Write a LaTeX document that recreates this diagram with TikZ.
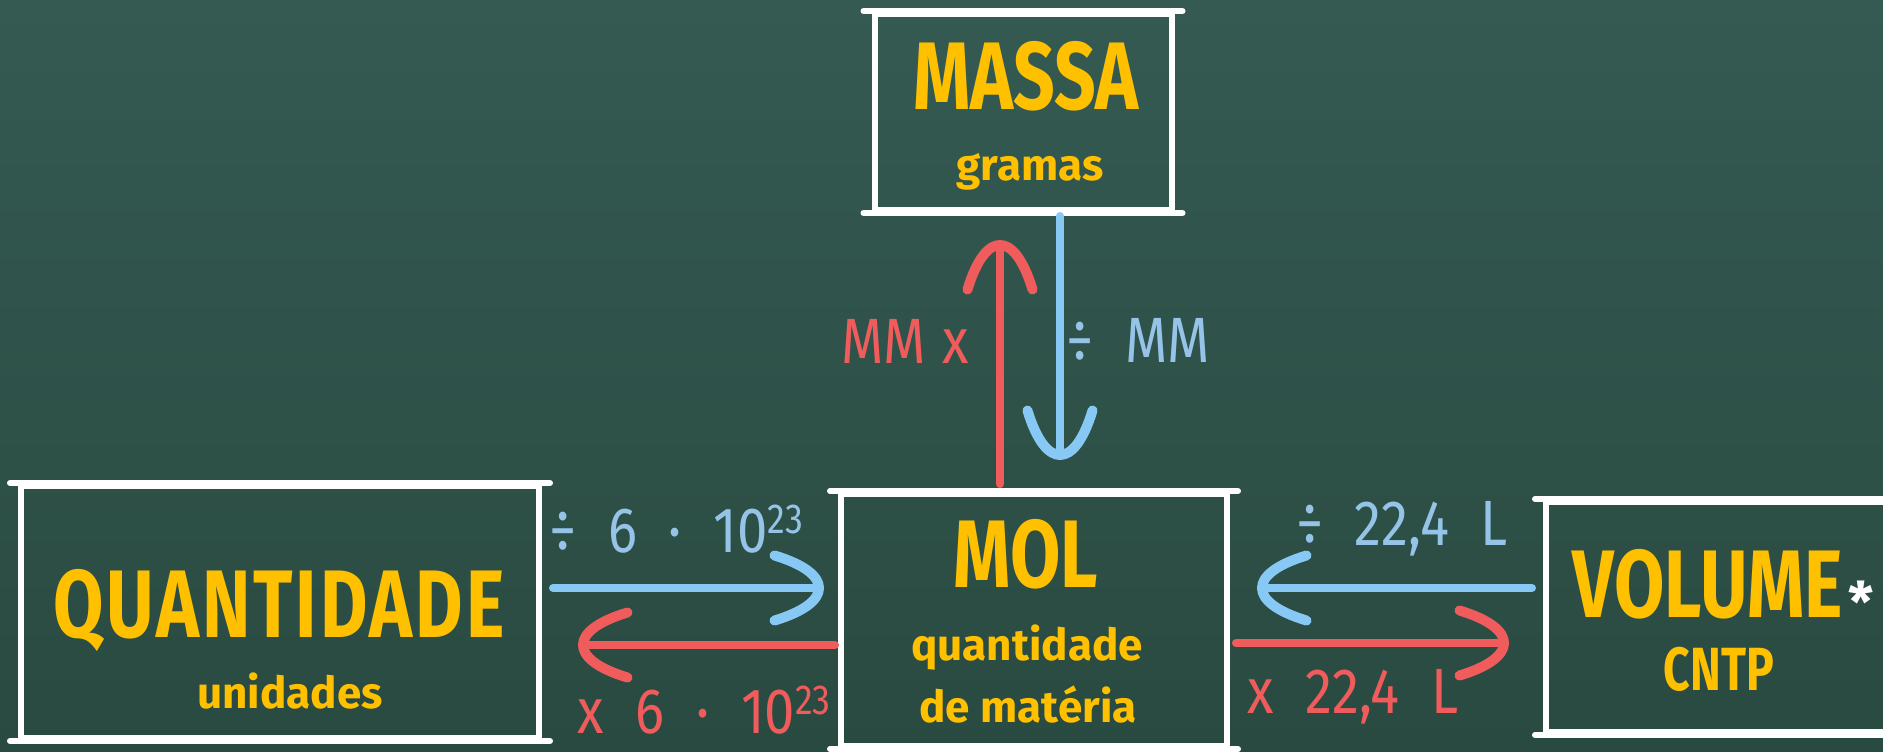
\documentclass[tikz,border=0pt]{standalone}
\usepackage{fontspec}
\usetikzlibrary{arrows.meta}
\newfontfamily\chalkfont[FakeStretch=0.76]{Fira Sans}
\newfontfamily\handfont{Fira Sans}
\newfontfamily\labelfont[FakeStretch=0.85, WordSpace=2.2]{Fira Sans}
\newcommand\supnum[1]{\raisebox{19pt}{\fontsize{42}{42}\selectfont #1}}
\definecolor{boardtop}{RGB}{52,90,81}
\definecolor{boardbot}{RGB}{41,74,65}
\definecolor{chalkyellow}{RGB}{255,192,0}
\definecolor{chalkred}{RGB}{240,92,92}
\definecolor{chalkblue}{RGB}{150,196,232}
\definecolor{arrowblue}{RGB}{135,200,245}
\tikzset{
  box/.style={draw=white, line width=6pt, inner sep=0pt},
  edge/.style={draw=white, line width=6pt, line cap=round, shorten <=-8pt, shorten >=-8pt},
  title/.style={text=chalkyellow, anchor=base, inner sep=0pt, font=\chalkfont\bfseries\fontsize{96}{96}\selectfont},
  sub/.style={text=chalkyellow, anchor=base, inner sep=0pt, font=\handfont\bfseries\fontsize{44}{44}\selectfont},
  subcaps/.style={text=chalkyellow, anchor=base, inner sep=0pt, font=\chalkfont\bfseries\fontsize{61}{61}\selectfont},
  asterisk/.style={text=white, anchor=base, inner sep=0pt, font=\handfont\bfseries\fontsize{56}{56}\selectfont},
  redlabel/.style={text=chalkred, anchor=base, inner sep=0pt, font=\labelfont\fontsize{64}{64}\selectfont},
  bluelabel/.style={text=chalkblue, anchor=base, inner sep=0pt, font=\labelfont\fontsize{64}{64}\selectfont},
  chalktip/.style={-{Arc Barb[arc=90, length=157pt, width=102pt, line width'=10pt, round]}},
  redarrow/.style={draw=chalkred, line width=8pt, line cap=round, chalktip},
  bluearrow/.style={draw=arrowblue, line width=8pt, line cap=round, chalktip}
}
\begin{document}
\begin{tikzpicture}[x=1pt, y=-1pt]
\shade[top color=boardtop, bottom color=boardbot] (0,0) rectangle (1883,752);
\useasboundingbox (0,0) rectangle (1883,752);
\clip (0,0) rectangle (1883,752);
\node[box, minimum width=297pt, minimum height=196pt] (massa) at (1023,112){};
\node[box, minimum width=518pt, minimum height=252pt] (qtd) at (280,612){};
\node[box, minimum width=386pt, minimum height=252pt] (mol) at (1034,620){};
\node[box, minimum width=346pt, minimum height=230pt] (vol) at (1719,617){};
\foreach \b in {massa,qtd,mol,vol}{
  \draw[edge] (\b.north west) -- (\b.north east);
  \draw[edge] (\b.south west) -- (\b.south east);
}
\node[title] (massat) at (1026,110){MASSA};
\node[sub] (massas) at (1030,180){gramas};
\node[title] (qtdt) at (279,637){\addfontfeature{LetterSpace=3}QUANTIDADE};
\node[sub] (qtds) at (290,708){unidades};
\node[title] (molt) at (1026,587){MOL};
\node[sub] (mols) at (1027,660){quantidade};
\node[sub] (molm) at (1028,722){de matéria};
\node[title] (volt) at (1708,617){VOLUME};
\node[asterisk] (volx) at (1861,622){*};
\node[subcaps] (vols) at (1719,690){CNTP};
\draw[redarrow, shorten <=7pt, shorten >=27pt] ([xshift=-34pt]mol.north) -- ([xshift=-34pt]mol.north |- massa.south);
\draw[bluearrow, shorten <=3pt, shorten >=31pt] ([xshift=26pt]mol.north |- massa.south) -- ([xshift=26pt]mol.north);
\draw[bluearrow, shorten <=11pt, shorten >=14pt] ([yshift=32pt]mol.west -| qtd.east) -- ([yshift=32pt]mol.west);
\draw[redarrow, shorten <=3pt, shorten >=36pt] ([yshift=-25pt]mol.west) -- ([yshift=-25pt]mol.west -| qtd.east);
\draw[bluearrow, shorten <=11pt, shorten >=27pt] ([yshift=32pt]mol.east -| vol.west) -- ([yshift=32pt]mol.east);
\draw[redarrow, shorten <=6pt, shorten >=34pt] ([yshift=-23pt]mol.east) -- ([yshift=-23pt]mol.east -| vol.west);
\node[redlabel] (mmx) at (905,363){MM\hspace{16pt}x};
\node[bluelabel] (divmm) at (1138,362){÷ MM};
\node[bluelabel] (divav) at (676,552){÷ 6 · 10\supnum{23}};
\node[redlabel] (mulav) at (704,733){x 6 · 10\supnum{23}};
\node[bluelabel] (divvm) at (1402,545){÷ 22,4 L};
\node[redlabel] (mulvm) at (1353,713){x 22,4 L};
\end{tikzpicture}
\end{document}
